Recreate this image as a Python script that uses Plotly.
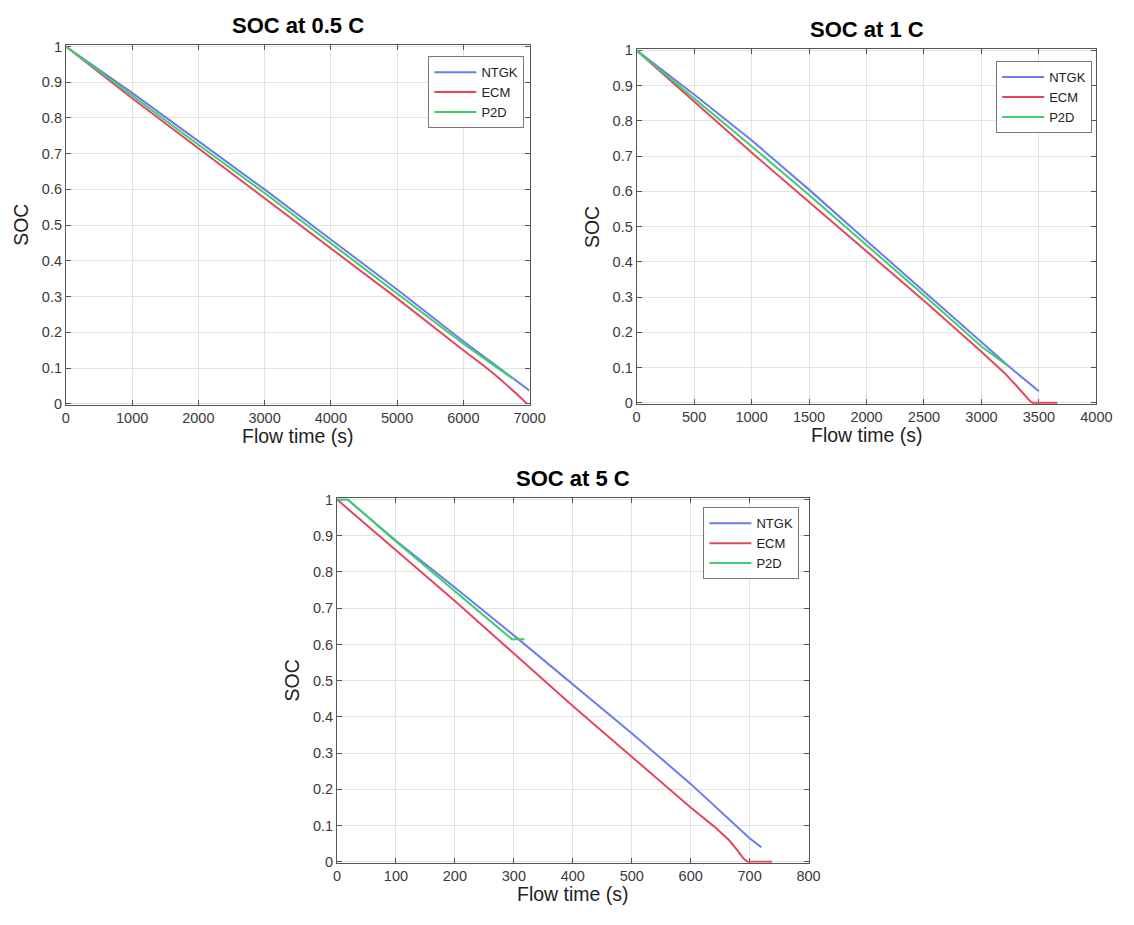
import plotly.graph_objects as go

# ---------------- data ----------------
# 0.5 C
t05_ntgk = [0, 1000, 2000, 3000, 4000, 5000, 6000, 6500, 7000]
soc05_ntgk = [1.0, 0.87, 0.735, 0.6, 0.46, 0.32, 0.175, 0.105, 0.037]
t05_ecm = [0, 1000, 2000, 3000, 4000, 5000, 6000, 6300, 6550, 6750, 6880, 6960]
soc05_ecm = [1.0, 0.855, 0.715, 0.575, 0.435, 0.295, 0.15, 0.108, 0.07, 0.038, 0.015, 0.0]
t05_p2d = [0, 1000, 2000, 3000, 4000, 5000, 6000, 6750]
soc05_p2d = [1.0, 0.862, 0.725, 0.59, 0.45, 0.31, 0.168, 0.07]

# 1 C
t1_ntgk = [0, 500, 1000, 1500, 2000, 2500, 3000, 3250, 3500]
soc1_ntgk = [1.0, 0.875, 0.745, 0.605, 0.46, 0.315, 0.17, 0.1, 0.033]
t1_ecm = [0, 500, 1000, 1500, 2000, 2500, 3000, 3200, 3300, 3380, 3420, 3445, 3660]
soc1_ecm = [1.0, 0.855, 0.71, 0.57, 0.43, 0.29, 0.145, 0.085, 0.05, 0.02, 0.006, 0.0, 0.0]
t1_p2d = [0, 500, 1000, 1500, 2000, 2500, 3000, 3230]
soc1_p2d = [1.0, 0.865, 0.728, 0.59, 0.448, 0.305, 0.16, 0.105]

# 5 C
t5_ntgk = [0, 18, 100, 200, 300, 400, 500, 600, 650, 700, 720]
soc5_ntgk = [1.0, 1.0, 0.886, 0.757, 0.625, 0.49, 0.355, 0.215, 0.14, 0.065, 0.04]
t5_ecm = [0, 100, 200, 300, 400, 500, 600, 640, 665, 680, 690, 697, 738]
soc5_ecm = [1.0, 0.86, 0.72, 0.575, 0.43, 0.29, 0.15, 0.097, 0.06, 0.03, 0.008, 0.0, 0.0]
t5_p2d = [0, 18, 100, 200, 297, 318]
soc5_p2d = [1.0, 1.0, 0.884, 0.748, 0.614, 0.614]

series_names = ["NTGK", "ECM", "P2D"]
titles = ["SOC at 0.5 C", "SOC at 1 C", "SOC at 5 C"]
x_ranges = [[0, 7000], [0, 4000], [0, 800]]
x_dticks = [1000, 500, 100]
y_ticks = [0, 0.1, 0.2, 0.3, 0.4, 0.5, 0.6, 0.7, 0.8, 0.9, 1]
y_ticklabels = ["0", "0.1", "0.2", "0.3", "0.4", "0.5", "0.6", "0.7", "0.8", "0.9", "1"]

colors = ["#6b7cf0", "#e8455e", "#3ccf6a"]
W, H = 1134, 925

# pixel boxes (left, top, right, bottom)
boxes = [(63, 39, 535, 404), (644, 43, 1112, 403), (339, 499, 819, 869)]
legend_pos = [(432, 50), (1010, 55), (712, 508)]

fig = go.Figure()

data = [
    [(t05_ntgk, soc05_ntgk), (t05_ecm, soc05_ecm), (t05_p2d, soc05_p2d)],
    [(t1_ntgk, soc1_ntgk), (t1_ecm, soc1_ecm), (t1_p2d, soc1_p2d)],
    [(t5_ntgk, soc5_ntgk), (t5_ecm, soc5_ecm), (t5_p2d, soc5_p2d)],
]

font_family = "Liberation Sans, Arial, sans-serif"
axis_color = "#555555"
grid_color = "#e3e3e3"

annotations = []
for i, (panel, box) in enumerate(zip(data, boxes)):
    suffix = "" if i == 0 else str(i + 1)
    legend_name = "legend" if i == 0 else f"legend{i + 1}"
    for j, (xs, ys) in enumerate(panel):
        fig.add_trace(go.Scatter(
            x=xs, y=ys, mode="lines", name=series_names[j],
            line=dict(color=colors[j], width=2),
            xaxis="x" + suffix, yaxis="y" + suffix,
            legend=legend_name, showlegend=True,
        ))
    l, t, r, b = box
    xdom = [l / W, r / W]
    ydom = [1 - b / H, 1 - t / H]
    common = dict(showline=True, linecolor=axis_color, linewidth=1, mirror="allticks",
                  ticks="inside", ticklen=5, tickcolor=axis_color, layer="below traces",
                  showgrid=True, gridcolor=grid_color, gridwidth=1, zeroline=False,
                  tickfont=dict(family=font_family, size=14.5, color="#3a3a3a"))
    fig.update_layout(**{
        "xaxis" + suffix: dict(domain=xdom, range=x_ranges[i], dtick=x_dticks[i], tick0=0,
                               anchor="y" + suffix, **common),
        "yaxis" + suffix: dict(domain=ydom, range=[-0.003, 1.003], tickvals=y_ticks,
                               ticktext=y_ticklabels, anchor="x" + suffix, **common),
    })
    cx = (l + r) / 2
    annotations.append(dict(text=f"<b>{titles[i]}</b>", x=cx / W, y=1 - (t - 20) / H,
                            xref="paper", yref="paper", showarrow=False,
                            font=dict(family=font_family, size=22, color="#000000"),
                            xanchor="center", yanchor="middle"))
    annotations.append(dict(text="Flow time (s)", x=cx / W, y=1 - (b + 32) / H,
                            xref="paper", yref="paper", showarrow=False,
                            font=dict(family=font_family, size=19.5, color="#222222"),
                            xanchor="center", yanchor="middle"))
    annotations.append(dict(text="SOC", x=(l - 46) / W, y=1 - ((t + b) / 2) / H,
                            xref="paper", yref="paper", showarrow=False, textangle=-90,
                            font=dict(family=font_family, size=19.5, color="#222222"),
                            xanchor="center", yanchor="middle"))
    lx, ly = legend_pos[i]
    fig.update_layout(**{legend_name: dict(
        x=lx / W, y=1 - ly / H, xanchor="left", yanchor="top",
        bgcolor="white", bordercolor="#777777", borderwidth=1,
        font=dict(family=font_family, size=13, color="#222222"),
        tracegroupgap=0, itemwidth=42,
    )})

fig.update_layout(
    width=W, height=H, margin=dict(l=0, r=0, t=0, b=0),
    paper_bgcolor="white", plot_bgcolor="white",
    annotations=annotations,
)

fig.write_html("out.html", config={"displayModeBar": False},
               post_script="document.body.style.margin='0px';document.body.style.overflow='hidden';")
